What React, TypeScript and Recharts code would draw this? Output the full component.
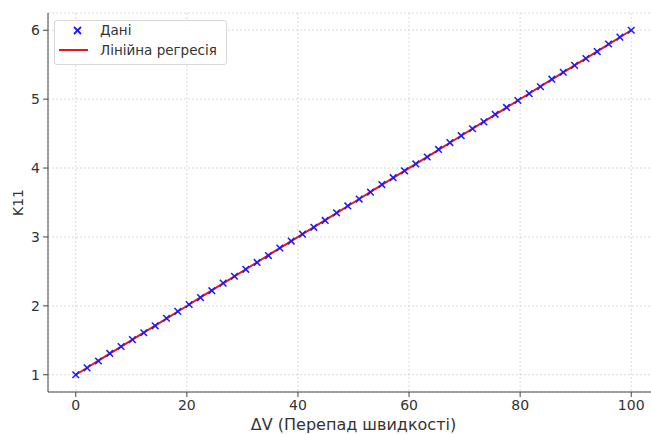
import React from "react";
import {
  ComposedChart,
  Line,
  Scatter,
  XAxis,
  YAxis,
  CartesianGrid,
} from "recharts";

const deltaV = [
  0, 2.04, 4.08, 6.12, 8.16, 10.2, 12.24, 14.29, 16.33, 18.37, 20.41, 22.45,
  24.49, 26.53, 28.57, 30.61, 32.65, 34.69, 36.73, 38.78, 40.82, 42.86, 44.9,
  46.94, 48.98, 51.02, 53.06, 55.1, 57.14, 59.18, 61.22, 63.27, 65.31, 67.35,
  69.39, 71.43, 73.47, 75.51, 77.55, 79.59, 81.63, 83.67, 85.71, 87.76, 89.8,
  91.84, 93.88, 95.92, 97.96, 100,
];
const k11 = [
  1, 1.1, 1.2, 1.31, 1.41, 1.51, 1.61, 1.71, 1.82, 1.92, 2.02, 2.12, 2.22,
  2.33, 2.43, 2.53, 2.63, 2.73, 2.84, 2.94, 3.04, 3.14, 3.24, 3.35, 3.45, 3.55,
  3.65, 3.76, 3.86, 3.96, 4.06, 4.16, 4.27, 4.37, 4.47, 4.57, 4.67, 4.78, 4.88,
  4.98, 5.08, 5.18, 5.29, 5.39, 5.49, 5.59, 5.69, 5.8, 5.9, 6,
];
const fitted = [
  1, 1.102, 1.204, 1.306, 1.408, 1.51, 1.612, 1.714, 1.816, 1.918, 2.02, 2.122,
  2.224, 2.327, 2.429, 2.531, 2.633, 2.735, 2.837, 2.939, 3.041, 3.143, 3.245,
  3.347, 3.449, 3.551, 3.653, 3.755, 3.857, 3.959, 4.061, 4.163, 4.265, 4.367,
  4.469, 4.571, 4.673, 4.776, 4.878, 4.98, 5.082, 5.184, 5.286, 5.388, 5.49,
  5.592, 5.694, 5.796, 5.898, 6,
];
const xTicks = [0, 20, 40, 60, 80, 100];
const yTicks = [1, 2, 3, 4, 5, 6];
const seriesNames = ["Дані", "Лінійна регресія"];
const xLabel = "ΔV (Перепад швидкості)";
const yLabel = "K11";

const rows = deltaV.map((x, i) => ({ x, k: k11[i], fit: fitted[i] }));

const FONT = "DejaVu Sans, sans-serif";
const BLUE = "#1a1aff";
const RED = "#e8141e";

const XMark = (props: any) => {
  const { cx, cy } = props;
  if (cx == null || cy == null) return null;
  const s = 3.3;
  return (
    <g>
      <line x1={cx - s} y1={cy - s} x2={cx + s} y2={cy + s} stroke={BLUE} strokeWidth={1.5} />
      <line x1={cx - s} y1={cy + s} x2={cx + s} y2={cy - s} stroke={BLUE} strokeWidth={1.5} />
    </g>
  );
};

const LegendBox = () => (
  <div
    style={{
      position: "absolute",
      left: 54,
      top: 20,
      width: 173,
      height: 45,
      background: "rgba(255,255,255,0.85)",
      border: "1px solid #d8d8d8",
      borderRadius: 3,
      boxSizing: "border-box",
      fontFamily: FONT,
      fontSize: 13.5,
      color: "#333",
    }}
  >
    <svg width={44} height={45} style={{ position: "absolute", left: 0, top: 0 }}>
      <line x1={19} y1={6} x2={26} y2={13} stroke={BLUE} strokeWidth={1.8} />
      <line x1={19} y1={13} x2={26} y2={6} stroke={BLUE} strokeWidth={1.8} />
      <line x1={4} y1={29} x2={33} y2={29} stroke={RED} strokeWidth={2} />
    </svg>
    <div style={{ position: "absolute", left: 45, top: 1, whiteSpace: "nowrap" }}>{seriesNames[0]}</div>
    <div style={{ position: "absolute", left: 45, top: 21, whiteSpace: "nowrap" }}>{seriesNames[1]}</div>
  </div>
);

export default function App() {
  return (
    <div
      style={{
        position: "absolute",
        left: 0,
        top: 0,
        width: 651,
        height: 434,
        overflow: "hidden",
        background: "#fff",
      }}
    >
      <ComposedChart
        width={660}
        height={434}
        data={rows}
        margin={{ top: 13, right: 1, bottom: 0, left: 0 }}
      >
        <CartesianGrid stroke="#d0d0d0" strokeDasharray="2 2" strokeWidth={0.8} vertical horizontal />
        <XAxis
          dataKey="x"
          type="number"
          domain={[-5, 105]}
          ticks={xTicks}
          height={42}
          tickSize={5}
          tickMargin={3}
          stroke="#444"
          tick={{ fill: "#333", fontSize: 14, fontFamily: FONT }}
          label={{
            value: xLabel,
            position: "insideBottom",
            offset: 4,
            fill: "#333",
            fontSize: 16,
            fontFamily: FONT,
          }}
        />
        <YAxis
          type="number"
          domain={[0.75, 6.25]}
          ticks={yTicks}
          width={48}
          tickSize={5}
          tickMargin={3}
          stroke="#444"
          tick={{ fill: "#333", fontSize: 14, fontFamily: FONT }}
          label={{
            value: yLabel,
            angle: -90,
            position: "insideLeft",
            offset: 18,
            fill: "#333",
            fontSize: 14,
            fontFamily: FONT,
            style: { textAnchor: "middle" },
          }}
        />
        <Scatter dataKey="k" shape={<XMark />} isAnimationActive={false} />
        <Line
          dataKey="fit"
          type="linear"
          stroke={RED}
          strokeWidth={2}
          dot={false}
          activeDot={false}
          isAnimationActive={false}
        />
      </ComposedChart>
      <LegendBox />
    </div>
  );
}
